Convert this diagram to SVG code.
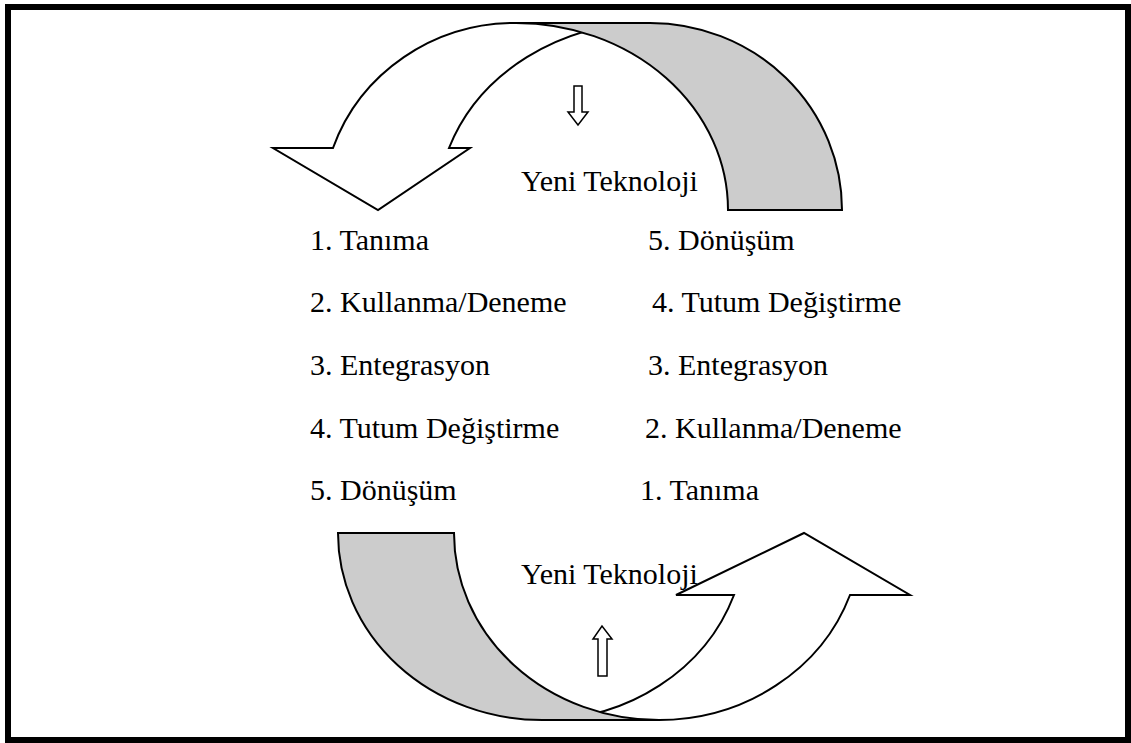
<svg xmlns="http://www.w3.org/2000/svg" width="1131" height="743" viewBox="0 0 1131 743">
<style>
.w{fill:#ffffff;stroke:#000;stroke-width:2;stroke-linejoin:miter}
.g{fill:#cccccc;stroke:#000;stroke-width:2}
.s{fill:#ffffff;stroke:#000;stroke-width:1.5}
text{font-family:"Liberation Serif","Times New Roman",serif;font-size:30px;fill:#000}
</style>
<rect x="0" y="0" width="1131" height="743" fill="#ffffff"/>
<rect id="frame" x="8" y="7" width="1120" height="733" fill="none" stroke="#000" stroke-width="6"/>
<g id="top-arrow">
<path class="w" d="M333,148 A193 187 0 0 1 516,23 L650,23 A212 187 0 0 0 449,148 L470,148 L378,210 L273,148 Z"/>
<path class="g" d="M516,23 L650,23 A192 187 0 0 1 842,210 L728,210 A212 187 0 0 0 516,23 Z"/>
</g>
<g id="bottom-arrow">
<path class="w" d="M542,720 L659,720 A203 187 0 0 0 850,595 L910,595 L804,533 L676,595 L734,595 A204 187 0 0 1 542,720 Z"/>
<path class="g" d="M338,533 L454,533 A205 187 0 0 0 659,720 L542,720 A204 187 0 0 1 338,533 Z"/>
</g>
<g id="connectors">
<path class="s" d="M574,86 L582,86 L582,112 L588,112 L578,125 L568,112 L574,112 Z"/>
<path class="s" d="M598,676 L607,676 L607,639 L612,639 L602,626 L593,639 L598,639 Z"/>
</g>
<g id="top-label"><text x="521" y="191">Yeni Teknoloji</text></g>
<g id="bottom-label"><text x="521" y="584">Yeni Teknoloji</text></g>
<g id="left-list">
<text x="310" y="250">1. Tanıma</text>
<text x="310" y="312">2. Kullanma/Deneme</text>
<text x="310" y="375">3. Entegrasyon</text>
<text x="310" y="438">4. Tutum Değiştirme</text>
<text x="310" y="500">5. Dönüşüm</text>
</g>
<g id="right-list">
<text x="648" y="250">5. Dönüşüm</text>
<text x="652" y="312">4. Tutum Değiştirme</text>
<text x="648" y="375">3. Entegrasyon</text>
<text x="645" y="438">2. Kullanma/Deneme</text>
<text x="640" y="500">1. Tanıma</text>
</g>
</svg>
